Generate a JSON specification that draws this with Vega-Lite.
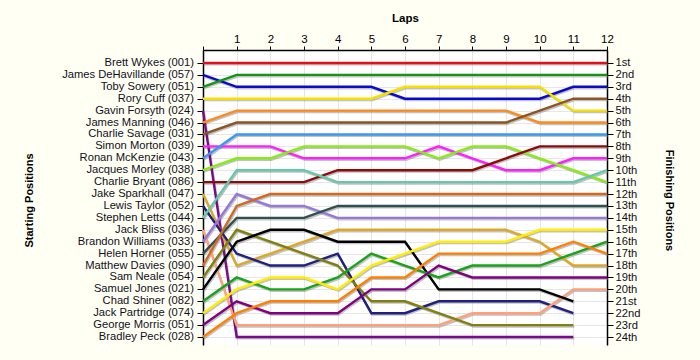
{
  "$schema": "https://vega.github.io/schema/vega-lite/v6.json",
  "width": 404,
  "height": 295,
  "autosize": {"type": "none"},
  "padding": {"left": 203, "top": 50, "right": 93, "bottom": 15},
  "background": "#FFFFF4",
  "config": {"view": {"fill": "#FFFFFF", "stroke": null}, "font": "Liberation Sans"},
  "datasets": {
    "drivers": [
      {"lap": 0, "pos": 1, "name": "Brett Wykes (001)"},
      {"lap": 0, "pos": 2, "name": "James DeHavillande (057)"},
      {"lap": 0, "pos": 3, "name": "Toby Sowery (051)"},
      {"lap": 0, "pos": 4, "name": "Rory Cuff (037)"},
      {"lap": 0, "pos": 5, "name": "Gavin Forsyth (024)"},
      {"lap": 0, "pos": 6, "name": "James Manning (046)"},
      {"lap": 0, "pos": 7, "name": "Charlie Savage (031)"},
      {"lap": 0, "pos": 8, "name": "Simon Morton (039)"},
      {"lap": 0, "pos": 9, "name": "Ronan McKenzie (043)"},
      {"lap": 0, "pos": 10, "name": "Jacques Morley (038)"},
      {"lap": 0, "pos": 11, "name": "Charlie Bryant (086)"},
      {"lap": 0, "pos": 12, "name": "Jake Sparkhall (047)"},
      {"lap": 0, "pos": 13, "name": "Lewis Taylor (052)"},
      {"lap": 0, "pos": 14, "name": "Stephen Letts (044)"},
      {"lap": 0, "pos": 15, "name": "Jack Bliss (036)"},
      {"lap": 0, "pos": 16, "name": "Brandon Williams (033)"},
      {"lap": 0, "pos": 17, "name": "Helen Horner (055)"},
      {"lap": 0, "pos": 18, "name": "Matthew Davies (090)"},
      {"lap": 0, "pos": 19, "name": "Sam Neale (054)"},
      {"lap": 0, "pos": 20, "name": "Samuel Jones (021)"},
      {"lap": 0, "pos": 21, "name": "Chad Shiner (082)"},
      {"lap": 0, "pos": 22, "name": "Jack Partridge (074)"},
      {"lap": 0, "pos": 23, "name": "George Morris (051)"},
      {"lap": 0, "pos": 24, "name": "Bradley Peck (028)"}
    ],
    "laps": [
      {"start":1,"lap":0,"pos":1},{"start":1,"lap":1,"pos":1},{"start":1,"lap":2,"pos":1},{"start":1,"lap":3,"pos":1},{"start":1,"lap":4,"pos":1},{"start":1,"lap":5,"pos":1},{"start":1,"lap":6,"pos":1},{"start":1,"lap":7,"pos":1},{"start":1,"lap":8,"pos":1},{"start":1,"lap":9,"pos":1},{"start":1,"lap":10,"pos":1},{"start":1,"lap":11,"pos":1},{"start":1,"lap":12,"pos":1},
      {"start":2,"lap":0,"pos":2},{"start":2,"lap":1,"pos":3},{"start":2,"lap":2,"pos":3},{"start":2,"lap":3,"pos":3},{"start":2,"lap":4,"pos":3},{"start":2,"lap":5,"pos":3},{"start":2,"lap":6,"pos":4},{"start":2,"lap":7,"pos":4},{"start":2,"lap":8,"pos":4},{"start":2,"lap":9,"pos":4},{"start":2,"lap":10,"pos":4},{"start":2,"lap":11,"pos":3},{"start":2,"lap":12,"pos":3},
      {"start":3,"lap":0,"pos":3},{"start":3,"lap":1,"pos":2},{"start":3,"lap":2,"pos":2},{"start":3,"lap":3,"pos":2},{"start":3,"lap":4,"pos":2},{"start":3,"lap":5,"pos":2},{"start":3,"lap":6,"pos":2},{"start":3,"lap":7,"pos":2},{"start":3,"lap":8,"pos":2},{"start":3,"lap":9,"pos":2},{"start":3,"lap":10,"pos":2},{"start":3,"lap":11,"pos":2},{"start":3,"lap":12,"pos":2},
      {"start":4,"lap":0,"pos":4},{"start":4,"lap":1,"pos":4},{"start":4,"lap":2,"pos":4},{"start":4,"lap":3,"pos":4},{"start":4,"lap":4,"pos":4},{"start":4,"lap":5,"pos":4},{"start":4,"lap":6,"pos":3},{"start":4,"lap":7,"pos":3},{"start":4,"lap":8,"pos":3},{"start":4,"lap":9,"pos":3},{"start":4,"lap":10,"pos":3},{"start":4,"lap":11,"pos":5},{"start":4,"lap":12,"pos":5},
      {"start":5,"lap":0,"pos":5},{"start":5,"lap":1,"pos":24},{"start":5,"lap":2,"pos":24},{"start":5,"lap":3,"pos":24},{"start":5,"lap":4,"pos":24},{"start":5,"lap":5,"pos":24},{"start":5,"lap":6,"pos":24},{"start":5,"lap":7,"pos":24},{"start":5,"lap":8,"pos":24},{"start":5,"lap":9,"pos":24},{"start":5,"lap":10,"pos":24},{"start":5,"lap":11,"pos":24},
      {"start":6,"lap":0,"pos":6},{"start":6,"lap":1,"pos":5},{"start":6,"lap":2,"pos":5},{"start":6,"lap":3,"pos":5},{"start":6,"lap":4,"pos":5},{"start":6,"lap":5,"pos":5},{"start":6,"lap":6,"pos":5},{"start":6,"lap":7,"pos":5},{"start":6,"lap":8,"pos":5},{"start":6,"lap":9,"pos":5},{"start":6,"lap":10,"pos":6},{"start":6,"lap":11,"pos":6},{"start":6,"lap":12,"pos":6},
      {"start":7,"lap":0,"pos":7},{"start":7,"lap":1,"pos":6},{"start":7,"lap":2,"pos":6},{"start":7,"lap":3,"pos":6},{"start":7,"lap":4,"pos":6},{"start":7,"lap":5,"pos":6},{"start":7,"lap":6,"pos":6},{"start":7,"lap":7,"pos":6},{"start":7,"lap":8,"pos":6},{"start":7,"lap":9,"pos":6},{"start":7,"lap":10,"pos":5},{"start":7,"lap":11,"pos":4},{"start":7,"lap":12,"pos":4},
      {"start":8,"lap":0,"pos":8},{"start":8,"lap":1,"pos":8},{"start":8,"lap":2,"pos":8},{"start":8,"lap":3,"pos":9},{"start":8,"lap":4,"pos":9},{"start":8,"lap":5,"pos":9},{"start":8,"lap":6,"pos":9},{"start":8,"lap":7,"pos":8},{"start":8,"lap":8,"pos":9},{"start":8,"lap":9,"pos":10},{"start":8,"lap":10,"pos":10},{"start":8,"lap":11,"pos":9},{"start":8,"lap":12,"pos":9},
      {"start":9,"lap":0,"pos":9},{"start":9,"lap":1,"pos":7},{"start":9,"lap":2,"pos":7},{"start":9,"lap":3,"pos":7},{"start":9,"lap":4,"pos":7},{"start":9,"lap":5,"pos":7},{"start":9,"lap":6,"pos":7},{"start":9,"lap":7,"pos":7},{"start":9,"lap":8,"pos":7},{"start":9,"lap":9,"pos":7},{"start":9,"lap":10,"pos":7},{"start":9,"lap":11,"pos":7},{"start":9,"lap":12,"pos":7},
      {"start":10,"lap":0,"pos":10},{"start":10,"lap":1,"pos":9},{"start":10,"lap":2,"pos":9},{"start":10,"lap":3,"pos":8},{"start":10,"lap":4,"pos":8},{"start":10,"lap":5,"pos":8},{"start":10,"lap":6,"pos":8},{"start":10,"lap":7,"pos":9},{"start":10,"lap":8,"pos":8},{"start":10,"lap":9,"pos":8},{"start":10,"lap":10,"pos":9},{"start":10,"lap":11,"pos":10},{"start":10,"lap":12,"pos":11},
      {"start":11,"lap":0,"pos":11},{"start":11,"lap":1,"pos":11},{"start":11,"lap":2,"pos":11},{"start":11,"lap":3,"pos":11},{"start":11,"lap":4,"pos":10},{"start":11,"lap":5,"pos":10},{"start":11,"lap":6,"pos":10},{"start":11,"lap":7,"pos":10},{"start":11,"lap":8,"pos":10},{"start":11,"lap":9,"pos":9},{"start":11,"lap":10,"pos":8},{"start":11,"lap":11,"pos":8},{"start":11,"lap":12,"pos":8},
      {"start":12,"lap":0,"pos":12},{"start":12,"lap":1,"pos":18},{"start":12,"lap":2,"pos":17},{"start":12,"lap":3,"pos":16},{"start":12,"lap":4,"pos":15},{"start":12,"lap":5,"pos":15},{"start":12,"lap":6,"pos":15},{"start":12,"lap":7,"pos":15},{"start":12,"lap":8,"pos":15},{"start":12,"lap":9,"pos":15},{"start":12,"lap":10,"pos":16},{"start":12,"lap":11,"pos":18},{"start":12,"lap":12,"pos":18},
      {"start":13,"lap":0,"pos":13},{"start":13,"lap":1,"pos":17},{"start":13,"lap":2,"pos":18},{"start":13,"lap":3,"pos":18},{"start":13,"lap":4,"pos":17},{"start":13,"lap":5,"pos":22},{"start":13,"lap":6,"pos":22},{"start":13,"lap":7,"pos":21},{"start":13,"lap":8,"pos":21},{"start":13,"lap":9,"pos":21},{"start":13,"lap":10,"pos":21},{"start":13,"lap":11,"pos":22},
      {"start":14,"lap":0,"pos":14},{"start":14,"lap":1,"pos":10},{"start":14,"lap":2,"pos":10},{"start":14,"lap":3,"pos":10},{"start":14,"lap":4,"pos":11},{"start":14,"lap":5,"pos":11},{"start":14,"lap":6,"pos":11},{"start":14,"lap":7,"pos":11},{"start":14,"lap":8,"pos":11},{"start":14,"lap":9,"pos":11},{"start":14,"lap":10,"pos":11},{"start":14,"lap":11,"pos":11},{"start":14,"lap":12,"pos":10},
      {"start":15,"lap":0,"pos":15},{"start":15,"lap":1,"pos":23},{"start":15,"lap":2,"pos":23},{"start":15,"lap":3,"pos":23},{"start":15,"lap":4,"pos":23},{"start":15,"lap":5,"pos":23},{"start":15,"lap":6,"pos":23},{"start":15,"lap":7,"pos":23},{"start":15,"lap":8,"pos":22},{"start":15,"lap":9,"pos":22},{"start":15,"lap":10,"pos":22},{"start":15,"lap":11,"pos":20},{"start":15,"lap":12,"pos":20},
      {"start":16,"lap":0,"pos":16},{"start":16,"lap":1,"pos":12},{"start":16,"lap":2,"pos":13},{"start":16,"lap":3,"pos":13},{"start":16,"lap":4,"pos":14},{"start":16,"lap":5,"pos":14},{"start":16,"lap":6,"pos":14},{"start":16,"lap":7,"pos":14},{"start":16,"lap":8,"pos":14},{"start":16,"lap":9,"pos":14},{"start":16,"lap":10,"pos":14},{"start":16,"lap":11,"pos":14},{"start":16,"lap":12,"pos":14},
      {"start":17,"lap":0,"pos":17},{"start":17,"lap":1,"pos":14},{"start":17,"lap":2,"pos":14},{"start":17,"lap":3,"pos":14},{"start":17,"lap":4,"pos":13},{"start":17,"lap":5,"pos":13},{"start":17,"lap":6,"pos":13},{"start":17,"lap":7,"pos":13},{"start":17,"lap":8,"pos":13},{"start":17,"lap":9,"pos":13},{"start":17,"lap":10,"pos":13},{"start":17,"lap":11,"pos":13},{"start":17,"lap":12,"pos":13},
      {"start":18,"lap":0,"pos":18},{"start":18,"lap":1,"pos":13},{"start":18,"lap":2,"pos":12},{"start":18,"lap":3,"pos":12},{"start":18,"lap":4,"pos":12},{"start":18,"lap":5,"pos":12},{"start":18,"lap":6,"pos":12},{"start":18,"lap":7,"pos":12},{"start":18,"lap":8,"pos":12},{"start":18,"lap":9,"pos":12},{"start":18,"lap":10,"pos":12},{"start":18,"lap":11,"pos":12},{"start":18,"lap":12,"pos":12},
      {"start":19,"lap":0,"pos":19},{"start":19,"lap":1,"pos":15},{"start":19,"lap":2,"pos":16},{"start":19,"lap":3,"pos":17},{"start":19,"lap":4,"pos":18},{"start":19,"lap":5,"pos":21},{"start":19,"lap":6,"pos":21},{"start":19,"lap":7,"pos":22},{"start":19,"lap":8,"pos":23},{"start":19,"lap":9,"pos":23},{"start":19,"lap":10,"pos":23},{"start":19,"lap":11,"pos":23},
      {"start":20,"lap":0,"pos":20},{"start":20,"lap":1,"pos":16},{"start":20,"lap":2,"pos":15},{"start":20,"lap":3,"pos":15},{"start":20,"lap":4,"pos":16},{"start":20,"lap":5,"pos":16},{"start":20,"lap":6,"pos":16},{"start":20,"lap":7,"pos":20},{"start":20,"lap":8,"pos":20},{"start":20,"lap":9,"pos":20},{"start":20,"lap":10,"pos":20},{"start":20,"lap":11,"pos":21},
      {"start":21,"lap":0,"pos":21},{"start":21,"lap":1,"pos":19},{"start":21,"lap":2,"pos":20},{"start":21,"lap":3,"pos":20},{"start":21,"lap":4,"pos":19},{"start":21,"lap":5,"pos":17},{"start":21,"lap":6,"pos":18},{"start":21,"lap":7,"pos":19},{"start":21,"lap":8,"pos":18},{"start":21,"lap":9,"pos":18},{"start":21,"lap":10,"pos":18},{"start":21,"lap":11,"pos":17},{"start":21,"lap":12,"pos":16},
      {"start":22,"lap":0,"pos":22},{"start":22,"lap":1,"pos":20},{"start":22,"lap":2,"pos":19},{"start":22,"lap":3,"pos":19},{"start":22,"lap":4,"pos":20},{"start":22,"lap":5,"pos":18},{"start":22,"lap":6,"pos":17},{"start":22,"lap":7,"pos":16},{"start":22,"lap":8,"pos":16},{"start":22,"lap":9,"pos":16},{"start":22,"lap":10,"pos":15},{"start":22,"lap":11,"pos":15},{"start":22,"lap":12,"pos":15},
      {"start":23,"lap":0,"pos":23},{"start":23,"lap":1,"pos":21},{"start":23,"lap":2,"pos":22},{"start":23,"lap":3,"pos":22},{"start":23,"lap":4,"pos":22},{"start":23,"lap":5,"pos":20},{"start":23,"lap":6,"pos":20},{"start":23,"lap":7,"pos":18},{"start":23,"lap":8,"pos":19},{"start":23,"lap":9,"pos":19},{"start":23,"lap":10,"pos":19},{"start":23,"lap":11,"pos":19},{"start":23,"lap":12,"pos":19},
      {"start":24,"lap":0,"pos":24},{"start":24,"lap":1,"pos":22},{"start":24,"lap":2,"pos":21},{"start":24,"lap":3,"pos":21},{"start":24,"lap":4,"pos":21},{"start":24,"lap":5,"pos":19},{"start":24,"lap":6,"pos":19},{"start":24,"lap":7,"pos":17},{"start":24,"lap":8,"pos":17},{"start":24,"lap":9,"pos":17},{"start":24,"lap":10,"pos":17},{"start":24,"lap":11,"pos":16},{"start":24,"lap":12,"pos":17}
    ]
  },
  "encoding": {
    "x": {
      "field": "lap",
      "type": "quantitative",
      "scale": {"domain": [0, 12], "nice": false, "zero": false},
      "axis": {
        "orient": "top",
        "values": [0, 1, 2, 3, 4, 5, 6, 7, 8, 9, 10, 11, 12],
        "labelExpr": "datum.value == 0 ? '' : datum.label",
        "labelFlush": false,
        "labelOverlap": false,
        "labelFontSize": 11.5,
        "labelColor": "#000",
        "labelAngle": 0,
        "labelPadding": 2,
        "tickSize": 4,
        "tickColor": "#000",
        "domainColor": "#000",
        "domainWidth": 1.5,
        "grid": true,
        "gridColor": "#E6E6E6",
        "title": "Laps",
        "titleFontSize": 11.5,
        "titleFontWeight": "bold",
        "titleColor": "#000",
        "titleY": -32,
        "titleBaseline": "middle"
      }
    }
  },
  "layer": [
    {
      "data": {"name": "drivers"},
      "mark": {"type": "text", "align": "right", "baseline": "middle", "dx": -9, "fontSize": 11.2, "color": "#101020"},
      "encoding": {
        "y": {
          "field": "pos",
          "type": "quantitative",
          "scale": {"domain": [-0.09, 24.67], "reverse": true, "nice": false, "zero": false},
          "axis": {
            "orient": "left",
            "values": [1, 2, 3, 4, 5, 6, 7, 8, 9, 10, 11, 12, 13, 14, 15, 16, 17, 18, 19, 20, 21, 22, 23, 24],
            "labels": false,
            "tickSize": 6,
            "tickColor": "#000",
            "domainColor": "#000",
            "domainWidth": 1.5,
            "grid": false,
            "title": "Starting Positions",
            "titleFontSize": 11,
            "titleFontWeight": "bold",
            "titleColor": "#000",
            "titleAngle": -90,
            "titleX": -174,
            "titleY": 150,
            "titleAlign": "center",
            "titleBaseline": "middle"
          }
        },
        "text": {"field": "name"}
      }
    },
    {
      "data": {"name": "laps"},
      "mark": {"type": "line", "strokeWidth": 2.2, "color": "#777777", "opacity": 0.45, "xOffset": 1, "yOffset": 1.5},
      "encoding": {
        "y": {"field": "pos", "type": "quantitative", "scale": {"domain": [-0.09, 24.67], "reverse": true, "nice": false, "zero": false}, "axis": null},
        "detail": {"field": "start"},
        "order": {"field": "lap"}
      }
    },
    {
      "data": {"name": "laps"},
      "mark": {"type": "line", "strokeWidth": 2.4},
      "encoding": {
        "y": {
          "field": "pos",
          "type": "quantitative",
          "scale": {"domain": [-0.09, 24.67], "reverse": true, "nice": false, "zero": false},
          "axis": {
            "orient": "right",
            "values": [1, 2, 3, 4, 5, 6, 7, 8, 9, 10, 11, 12, 13, 14, 15, 16, 17, 18, 19, 20, 21, 22, 23, 24],
            "labelExpr": "datum.value + (datum.value % 10 == 1 && datum.value != 11 ? 'st' : datum.value % 10 == 2 && datum.value != 12 ? 'nd' : datum.value % 10 == 3 && datum.value != 13 ? 'rd' : 'th')",
            "labelFontSize": 11.2,
            "labelColor": "#101020",
            "labelPadding": 2,
            "labelOverlap": false,
            "labelFlush": false,
            "tickSize": 6,
            "tickColor": "#000",
            "domainColor": "#000",
            "domainWidth": 1.5,
            "grid": true,
            "gridColor": "#E6E6E6",
            "title": "Finishing Positions",
            "titleFontSize": 11,
            "titleFontWeight": "bold",
            "titleColor": "#000",
            "titleAngle": 90,
            "titleX": 61,
            "titleY": 150,
            "titleAlign": "center",
            "titleBaseline": "middle"
          }
        },
        "color": {
          "field": "start",
          "type": "nominal",
          "legend": null,
          "scale": {
            "domain": [1, 2, 3, 4, 5, 6, 7, 8, 9, 10, 11, 12, 13, 14, 15, 16, 17, 18, 19, 20, 21, 22, 23, 24],
            "range": ["#E3101A", "#0A0ACC", "#129612", "#F5E000", "#7A0A8A", "#FF8A1C", "#8B5526", "#FF1EFF", "#3A98F0", "#86EC14", "#8C0A0A", "#DDA826", "#202080", "#66C8A8", "#FFA07A", "#9678DC", "#2F5050", "#D2691E", "#808010", "#000000", "#1BA21B", "#FFEE00", "#800080", "#FF8000"]
          }
        },
        "order": {"field": "lap"}
      }
    }
  ],
  "resolve": {"axis": {"y": "independent"}}
}
